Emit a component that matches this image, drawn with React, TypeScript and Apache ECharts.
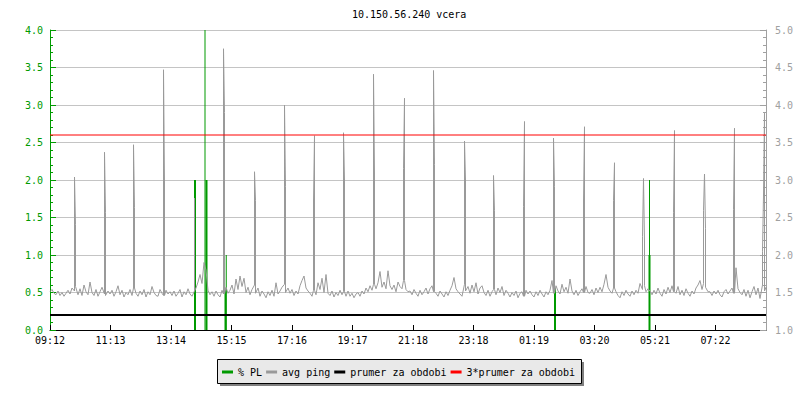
import React, { useEffect, useRef } from 'react';
import * as echarts from 'echarts';

const TITLE = '10.150.56.240 vcera';
const timeLabels = ['09:12', '11:13', '13:14', '15:15', '17:16', '19:17', '21:18', '23:18', '01:19', '03:20', '05:21', '07:22'];
const TICK_STEP = 121; // minutes between time labels
const X_MAX = 1432; // minutes shown
const BASE_STEP = 4; // minutes between baseline ping samples

// avg ping baseline (ms), one value every 4 minutes from the start
const pingBaseline = [
  1.51, 1.54, 1.49, 1.47, 1.52, 1.46, 1.50, 1.45, 1.49, 1.53, 1.48, 1.56, 1.52, 1.58, 1.47, 1.55, 1.46, 1.60, 1.51, 1.47, 1.64, 1.50, 1.46, 1.54, 1.45, 1.51, 1.57, 1.48, 1.46, 1.52,
  1.48, 1.53, 1.45, 1.51, 1.59, 1.47, 1.53, 1.44, 1.50, 1.47, 1.54, 1.46, 1.56, 1.49, 1.45, 1.52, 1.47, 1.54, 1.44, 1.51, 1.47, 1.58, 1.50, 1.46, 1.45, 1.54, 1.49, 1.46, 1.53, 1.48,
  1.51, 1.46, 1.52, 1.45, 1.49, 1.54, 1.44, 1.51, 1.47, 1.55, 1.48, 1.45, 1.52, 1.56, 1.64, 1.74, 1.62, 1.90, 1.80, 1.53, 1.47, 1.51, 1.45, 1.52, 1.47, 1.44, 1.53, 1.48, 1.57, 1.49,
  1.53, 1.60, 1.48, 1.68, 1.54, 1.72, 1.58, 1.69, 1.50, 1.57, 1.47, 1.54, 1.60, 1.49, 1.56, 1.45, 1.52, 1.48, 1.43, 1.51, 1.46, 1.53, 1.45, 1.63, 1.48, 1.52, 1.57, 1.61, 1.50, 1.56,
  1.49, 1.54, 1.46, 1.52, 1.48, 1.59, 1.66, 1.72, 1.56, 1.52, 1.49, 1.45, 1.53, 1.47, 1.63, 1.54, 1.69, 1.50, 1.74, 1.49, 1.46, 1.52, 1.44, 1.50, 1.46, 1.53, 1.47, 1.51, 1.45, 1.52,
  1.45, 1.49, 1.43, 1.48, 1.50, 1.45, 1.52, 1.48, 1.56, 1.51, 1.59, 1.53, 1.61, 1.55, 1.63, 1.78, 1.57, 1.64, 1.55, 1.79, 1.59, 1.54, 1.60, 1.51, 1.64, 1.58, 1.55, 1.66, 1.54, 1.51,
  1.52, 1.47, 1.54, 1.49, 1.45, 1.53, 1.47, 1.51, 1.56, 1.48, 1.55, 1.59, 1.51, 1.49, 1.45, 1.52, 1.48, 1.44, 1.51, 1.46, 1.53, 1.59, 1.70, 1.55, 1.51, 1.48, 1.45, 1.61, 1.52, 1.58,
  1.49, 1.60, 1.51, 1.63, 1.48, 1.56, 1.59, 1.50, 1.46, 1.53, 1.45, 1.51, 1.54, 1.47, 1.56, 1.50, 1.58, 1.46, 1.53, 1.49, 1.44, 1.50, 1.46, 1.52, 1.43, 1.49, 1.51, 1.45, 1.53, 1.48,
  1.52, 1.47, 1.44, 1.51, 1.46, 1.53, 1.48, 1.44, 1.51, 1.47, 1.53, 1.66, 1.49, 1.59, 1.52, 1.48, 1.61, 1.51, 1.57, 1.49, 1.68, 1.52, 1.47, 1.53, 1.46, 1.51, 1.55, 1.50, 1.58, 1.50,
  1.49, 1.54, 1.47, 1.56, 1.50, 1.57, 1.51, 1.61, 1.74, 1.57, 1.52, 1.49, 1.56, 1.51, 1.46, 1.43, 1.51, 1.46, 1.53, 1.48, 1.45, 1.52, 1.47, 1.53, 1.49, 1.62, 1.54, 1.59, 1.51, 1.55,
  1.52, 1.47, 1.53, 1.48, 1.56, 1.49, 1.45, 1.54, 1.48, 1.57, 1.50, 1.59, 1.51, 1.49, 1.58, 1.47, 1.53, 1.46, 1.55, 1.49, 1.45, 1.52, 1.48, 1.56, 1.60, 1.66, 1.54, 1.62, 1.57, 1.51,
  1.51, 1.46, 1.52, 1.48, 1.53, 1.47, 1.44, 1.51, 1.54, 1.48, 1.52, 1.56, 1.49, 1.83, 1.55, 1.50, 1.47, 1.54, 1.45, 1.53, 1.43, 1.51, 1.58, 1.47, 1.56, 1.42, 1.60, 1.52, 1.57, 1.51,
];

// avg ping spikes: [minute, ms]
const pingSpikes: [number, number][] = [
  [49, 3.04], [51, 2.41],
  [109, 3.37], [111, 2.57],
  [167, 3.47], [169, 2.63],
  [227, 4.47], [229, 2.96],
  [289, 2.76],
  [347, 4.75], [349, 3.90],
  [409, 3.11], [411, 2.73],
  [469, 4.0], [471, 2.91],
  [527, 2.72], [529, 3.59],
  [587, 3.63], [589, 3.0],
  [647, 4.41], [649, 3.08],
  [707, 3.15], [709, 4.09],
  [767, 4.46], [769, 3.21],
  [829, 3.52], [831, 3.0],
  [887, 3.06], [889, 2.59],
  [947, 2.65], [949, 3.78],
  [1007, 3.56], [1009, 2.91],
  [1067, 2.72], [1069, 3.71],
  [1127, 2.73], [1129, 3.23],
  [1185, 2.25], [1187, 3.02], [1189, 2.16],
  [1247, 2.57], [1249, 3.66],
  [1307, 2.59], [1309, 3.08], [1311, 2.35],
  [1367, 2.61], [1369, 3.69],
  [1425, 2.05], [1427, 2.8], [1429, 3.89],
];

// packet loss (%): wide and narrow marks [minute, %]
const plWide: [number, number][] = [[289, 2.0], [312, 2.0], [350, 0.55], [1009, 0.56], [1198, 1.0]];
const plNarrow: [number, number][] = [[310, 4.0], [352.5, 1.0], [1199, 2.0]];

const PRUMER = 1.2;
const PRUMER3 = 3.6;

const GREEN = '#009a00';
const GRAY = '#9a9a9a';
const FONT = 'DejaVu Sans Mono';

function baseAt(t: number): number {
  const i = Math.min(pingBaseline.length - 1, Math.max(0, Math.round(t / BASE_STEP)));
  return pingBaseline[i];
}

function buildPing(): [number, number][] {
  // group spikes that are next to each other
  const groups: [number, number][][] = [];
  pingSpikes.forEach((p) => {
    const g = groups[groups.length - 1];
    if (g && p[0] - g[g.length - 1][0] <= 2) g.push(p);
    else groups.push([p]);
  });
  const items: { t: number; pts: [number, number][] }[] = [];
  pingBaseline.forEach((v, i) => {
    const t = i * BASE_STEP;
    const inside = groups.some((g) => t >= g[0][0] - 1 && t <= g[g.length - 1][0] + 1);
    if (!inside) items.push({ t, pts: [[t, v]] });
  });
  groups.forEach((g) => {
    const s = g[0][0];
    const e = g[g.length - 1][0];
    items.push({ t: s, pts: [[s, baseAt(s)], ...g, [e, baseAt(e)]] });
  });
  items.sort((a, b) => a.t - b.t);
  const out: [number, number][] = [];
  items.forEach((it) => it.pts.forEach((p) => out.push(p)));
  return out;
}

export default function App() {
  const ref = useRef<HTMLDivElement>(null);
  useEffect(() => {
    if (!ref.current) return;
    const chart = echarts.init(ref.current, undefined, { renderer: 'svg' });
    chart.setOption({
      animation: false,
      backgroundColor: '#ffffff',
      title: {
        text: TITLE,
        left: 352,
        top: 8,
        padding: 0,
        textStyle: { fontFamily: FONT, fontSize: 10, fontWeight: 'normal', color: '#000', lineHeight: 12 },
      },
      legend: {
        data: ['% PL', 'avg ping', 'prumer za obdobi', '3*prumer za obdobi'],
        left: 222,
        top: 366,
        padding: 0,
        icon: 'rect',
        itemWidth: 11,
        itemHeight: 3,
        itemGap: 4,
        selectedMode: false,
        textStyle: { fontFamily: FONT, fontSize: 10, color: '#000', lineHeight: 12 },
      },
      graphic: [
        { type: 'rect', z: 0, shape: { x: 220, y: 362, width: 364, height: 24 }, style: { fill: '#808080' } },
        { type: 'rect', z: 1, shape: { x: 217.5, y: 359.5, width: 364, height: 24 }, style: { fill: '#e9e9e9', stroke: '#000', lineWidth: 1 } },
      ],
      grid: { left: 50, right: 34, top: 30, bottom: 70 },
      xAxis: {
        type: 'value',
        min: 0,
        max: X_MAX,
        interval: TICK_STEP,
        axisLine: { show: true, lineStyle: { color: '#000', width: 1 } },
        axisTick: { show: true, inside: true, length: 5, lineStyle: { color: '#000' } },
        splitLine: { show: false },
        axisLabel: {
          color: '#000',
          fontFamily: FONT,
          fontSize: 10,
          margin: 5,
          showMaxLabel: false,
          formatter: (v: number) => {
            const i = Math.round(v / TICK_STEP);
            return Math.abs(i * TICK_STEP - v) < 0.01 && timeLabels[i] ? timeLabels[i] : '';
          },
        },
      },
      yAxis: [
        {
          type: 'value',
          min: 0,
          max: 4,
          interval: 0.5,
          position: 'left',
          axisLine: { show: true, lineStyle: { color: GREEN } },
          axisTick: { show: true, inside: true, length: 6, lineStyle: { color: GREEN } },
          minorTick: { show: true, splitNumber: 5, length: 3, lineStyle: { color: GREEN } },
          splitLine: { show: true, lineStyle: { color: '#c4c4c4', width: 1 } },
          axisLabel: { color: GREEN, fontFamily: FONT, fontSize: 10, margin: 7, formatter: (v: number) => v.toFixed(1) },
        },
        {
          type: 'value',
          min: 1,
          max: 5,
          interval: 0.5,
          position: 'right',
          axisLine: { show: true, lineStyle: { color: '#a0a0a0' } },
          axisTick: { show: true, inside: true, length: 6, lineStyle: { color: '#a0a0a0' } },
          minorTick: { show: true, splitNumber: 5, length: 3, lineStyle: { color: '#a0a0a0' } },
          splitLine: { show: false },
          axisLabel: { color: '#a0a0a0', fontFamily: FONT, fontSize: 10, margin: 9, formatter: (v: number) => v.toFixed(1) },
        },
      ],
      series: [
        {
          name: '% PL', type: 'bar', xAxisIndex: 0, yAxisIndex: 0, data: plWide,
          barWidth: 2, barGap: '-100%', itemStyle: { color: GREEN }, silent: true,
        },
        {
          name: '% PL', type: 'bar', xAxisIndex: 0, yAxisIndex: 0, data: plNarrow,
          barWidth: 1, barGap: '-100%', itemStyle: { color: GREEN }, silent: true,
        },
        {
          name: 'avg ping', type: 'line', xAxisIndex: 0, yAxisIndex: 1, data: buildPing(),
          showSymbol: false, symbol: 'none', lineStyle: { color: GRAY, width: 1 }, itemStyle: { color: GRAY }, silent: true,
        },
        {
          name: 'prumer za obdobi', type: 'line', xAxisIndex: 0, yAxisIndex: 1,
          data: [[0, PRUMER], [X_MAX, PRUMER]],
          showSymbol: false, symbol: 'none', lineStyle: { color: '#000', width: 2 }, itemStyle: { color: '#000' }, silent: true,
        },
        {
          name: '3*prumer za obdobi', type: 'line', xAxisIndex: 0, yAxisIndex: 1,
          data: [[0, PRUMER3], [X_MAX, PRUMER3]],
          showSymbol: false, symbol: 'none', lineStyle: { color: '#ff0000', width: 1 }, itemStyle: { color: '#ff0000' }, silent: true,
        },
      ],
    });
    return () => chart.dispose();
  }, []);
  return (
    <div
      ref={ref}
      style={{ position: 'fixed', left: 0, top: 0, width: 800, height: 400, background: '#fff' }}
    />
  );
}
